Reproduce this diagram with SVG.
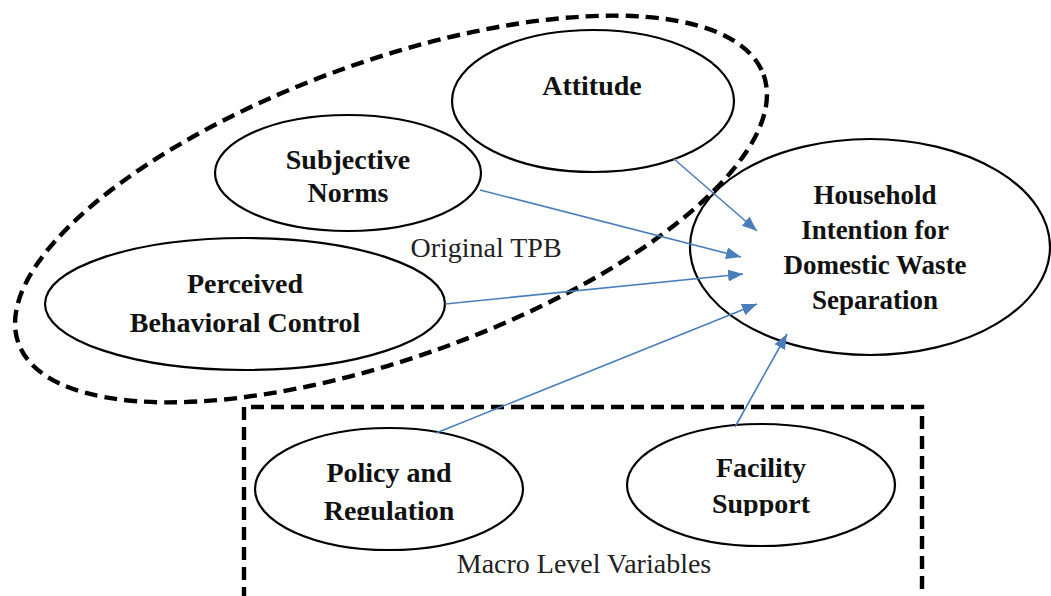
<svg xmlns="http://www.w3.org/2000/svg" width="1051" height="596" viewBox="0 0 1051 596">
<style>
.node{fill:none;stroke:#000;stroke-width:2.2}
.grp{fill:none;stroke:#000;stroke-width:4.4;stroke-dasharray:13 7}
.lbl{font-family:"Liberation Serif","Times New Roman",serif;font-weight:bold;font-size:28px;fill:#111;text-anchor:middle}
.hh{font-size:27px}
.cap{font-family:"Liberation Serif","Times New Roman",serif;font-size:28px;fill:#222;text-anchor:middle}
.edge{stroke:#4a7ebb;stroke-width:1.6;fill:none;marker-end:url(#ah)}
</style>
<defs>
<marker id="ah" markerUnits="userSpaceOnUse" markerWidth="16" markerHeight="12" refX="15" refY="6" orient="auto">
<path d="M0,0 L15,6 L0,12 z" fill="#4a7ebb"/>
</marker>
<clipPath id="clipP"><rect x="250" y="440" width="280" height="80"/></clipPath>
<clipPath id="clipF"><rect x="620" y="440" width="280" height="76"/></clipPath>
</defs>
<rect width="1051" height="596" fill="#fff"/>
<g id="group-tpb">
<ellipse class="grp" cx="391" cy="209" rx="396" ry="148" transform="rotate(-19.8 391 209)"/>
<text class="cap" x="486" y="257">Original TPB</text>
</g>
<g id="group-macro">
<path class="grp" d="M244,600 L244,407 L922,407 L922,600"/>
<text class="cap" x="584" y="573">Macro Level Variables</text>
</g>
<g id="attitude">
<ellipse class="node" cx="593" cy="101" rx="141" ry="71"/>
<text class="lbl" x="592" y="95">Attitude</text>
</g>
<g id="subjective-norms">
<ellipse class="node" cx="348" cy="173" rx="133" ry="58"/>
<text class="lbl" x="348" y="169">Subjective</text>
<text class="lbl" x="348" y="202">Norms</text>
</g>
<g id="pbc">
<ellipse class="node" cx="245" cy="304" rx="200" ry="66"/>
<text class="lbl" x="245" y="293">Perceived</text>
<text class="lbl" x="245" y="332">Behavioral Control</text>
</g>
<g id="intention">
<ellipse class="node" cx="870" cy="247" rx="180" ry="108"/>
<text class="lbl hh" x="875" y="204">Household</text>
<text class="lbl hh" x="875" y="239">Intention for</text>
<text class="lbl hh" x="875" y="274">Domestic Waste</text>
<text class="lbl hh" x="875" y="309">Separation</text>
</g>
<g id="policy">
<ellipse class="node" cx="389" cy="489" rx="134" ry="61"/>
<g clip-path="url(#clipP)">
<text class="lbl" x="389" y="482">Policy and</text>
<text class="lbl" x="389" y="520">Regulation</text>
</g>
</g>
<g id="facility">
<ellipse class="node" cx="761" cy="485" rx="134" ry="61"/>
<g clip-path="url(#clipF)">
<text class="lbl" x="761" y="477">Facility</text>
<text class="lbl" x="761" y="513">Support</text>
</g>
</g>
<g id="connectors">
<line class="edge" x1="674" y1="159" x2="757" y2="231"/>
<line class="edge" x1="480" y1="190" x2="741" y2="257"/>
<line class="edge" x1="445" y1="304" x2="743" y2="274"/>
<line class="edge" x1="436" y1="433" x2="757" y2="304"/>
<line class="edge" x1="735" y1="427" x2="787" y2="334"/>
</g>
</svg>
